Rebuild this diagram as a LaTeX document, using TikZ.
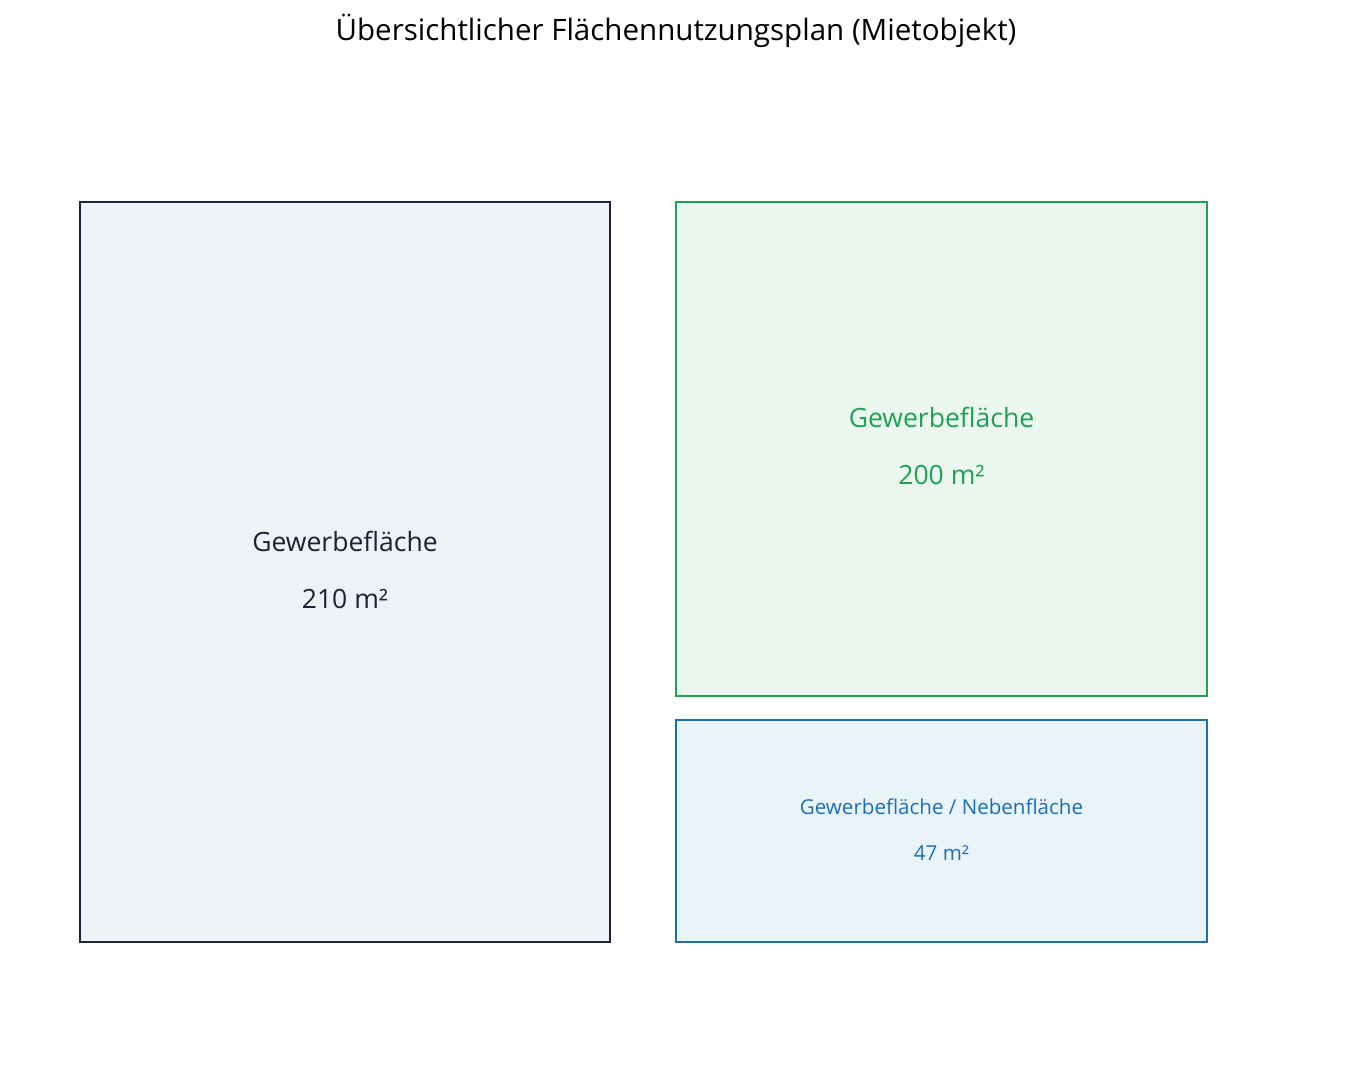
\documentclass[tikz,border=0pt]{standalone}
\usepackage{fontspec}
\setmainfont{Open Sans}
\usetikzlibrary{positioning}
\definecolor{navy}{HTML}{1A2236}
\definecolor{navyfill}{HTML}{EEF1F6}
\definecolor{gruen}{HTML}{1FA055}
\definecolor{gruenfill}{HTML}{EAF6EE}
\definecolor{blau}{HTML}{1F6EB0}
\definecolor{blaufill}{HTML}{E9F4F9}
\tikzset{
  raum/.style={draw, line width=1.5pt, inner sep=0pt},
  gross/.style={font=\fontsize{15.1}{17}\selectfont},
  klein/.style={font=\fontsize{11.7}{13}\selectfont}
}
\begin{document}
\begin{tikzpicture}[x=0.02cm, y=-0.02cm]
\useasboundingbox (0,0) rectangle (1353,1080);
\node (titel) at (676,31) {\fontsize{16.8}{19}\selectfont Übersichtlicher Flächennutzungsplan (Mietobjekt)};
% Flaechen
\node[raum, draw=navy, fill=navyfill, minimum width=10.6cm, minimum height=14.8cm] (links) at (345,572) {};
\node[raum, draw=gruen, fill=gruenfill, minimum width=10.62cm, minimum height=9.88cm] (oben) at (941.5,449) {};
\node[raum, draw=blau, fill=blaufill, minimum width=10.62cm, minimum height=4.44cm] (unten) at (941.5,831) {};
% Beschriftungen
\node[gross, text=navy] (links1) at (345,541) {Gewerbefläche};
\node[gross, text=navy] (links2) at (345,599) {210 m²};
\node[gross, text=gruen] (oben1) at (941.5,417) {Gewerbefläche};
\node[gross, text=gruen] (oben2) at (941.5,475) {200 m²};
\node[klein, text=blau] (unten1) at (941.5,807) {Gewerbefläche / Nebenfläche};
\node[klein, text=blau] (unten2) at (941.5,853) {47 m²};
\end{tikzpicture}
\end{document}
